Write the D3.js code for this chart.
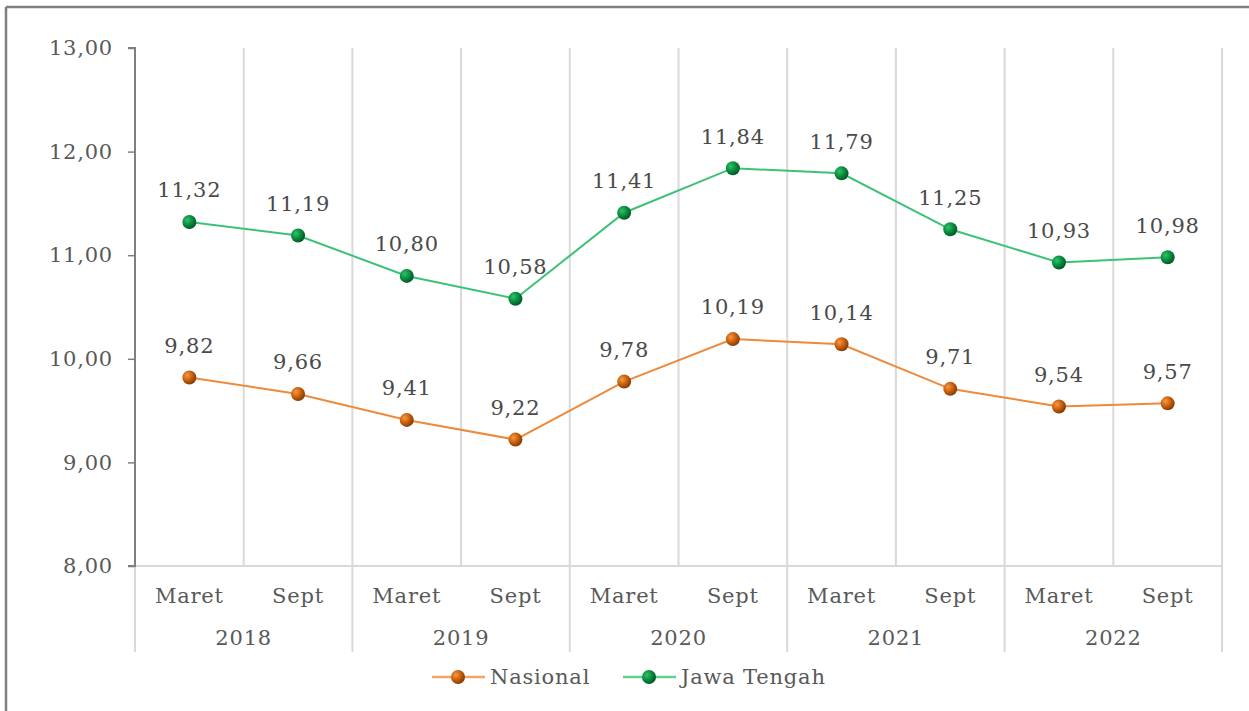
<!DOCTYPE html>
<html><head><meta charset="utf-8">
<script src="https://cdn.jsdelivr.net/npm/d3@7"></script>
<style>body{margin:0;background:#fff}svg{display:block}text{letter-spacing:0.8px}</style>
</head><body>
<svg id="c" width="1249" height="711"></svg>
<script>
const years = ["2018","2019","2020","2021","2022"];
const periods = ["Maret","Sept"];
const nasional = [9.82,9.66,9.41,9.22,9.78,10.19,10.14,9.71,9.54,9.57];
const jateng = [11.32,11.19,10.80,10.58,11.41,11.84,11.79,11.25,10.93,10.98];
const yTicks = [8,9,10,11,12,13];

(function(){
const cats = [];
years.forEach(y=>periods.forEach(p=>cats.push(y+"|"+p)));
const svg = d3.select("#c");
const font = "'DejaVu Serif', serif";
const fs = "21px";
const fmt = v => d3.format(".2f")(v).replace(".", ",");

const defs = svg.append("defs");
function grad(id, light, mid, dark){
  const g = defs.append("radialGradient").attr("id",id).attr("cx","35%").attr("cy","35%").attr("r","65%");
  g.append("stop").attr("offset","0%").attr("stop-color",light);
  g.append("stop").attr("offset","50%").attr("stop-color",mid);
  g.append("stop").attr("offset","100%").attr("stop-color",dark);
}
grad("gO","#f39a4a","#d0650f","#8a3c05");
grad("gG","#35c06a","#0a9443","#045a27");

svg.append("line").attr("x1",6).attr("x2",1249).attr("y1",7).attr("y2",7).attr("stroke","#7f7f7f").attr("stroke-width",2.5);
svg.append("line").attr("x1",6).attr("x2",6).attr("y1",7).attr("y2",711).attr("stroke","#7f7f7f").attr("stroke-width",2.5);

const pL = 135, pR = 1222, pT = 48, pB = 566;
const x = d3.scaleBand().domain(cats).range([pL,pR]);
const y = d3.scaleLinear().domain([8,13]).range([pB,pT]);

const g = svg.append("g");
cats.forEach((c,i)=>{
  const xb = x(c) + x.bandwidth();
  const isYear = (i % 2 === 1);
  g.append("line").attr("x1",xb).attr("x2",xb).attr("y1",pT).attr("y2", isYear ? 652 : pB)
    .attr("stroke","#d9d9d9").attr("stroke-width",2);
});
g.append("line").attr("x1",pL).attr("x2",pL).attr("y1",pB).attr("y2",652).attr("stroke","#d9d9d9").attr("stroke-width",2);
g.append("line").attr("x1",pL).attr("x2",pR).attr("y1",pB).attr("y2",pB).attr("stroke","#d9d9d9").attr("stroke-width",2);

const yAxis = d3.axisLeft(y).tickValues(yTicks).tickFormat(fmt).tickSize(7).tickPadding(15);
const ya = svg.append("g").attr("transform",`translate(${pL},0)`).call(yAxis);
ya.select(".domain").attr("stroke","#7f7f7f").attr("stroke-width",2).attr("d",`M-7,${pT}H0V${pB}H-7`);
ya.selectAll(".tick line").attr("stroke","#7f7f7f").attr("stroke-width",1.5);
ya.selectAll(".tick text").attr("fill","#595959").style("font-family",font).style("font-size",fs);

cats.forEach(c=>{
  const p = c.split("|")[1];
  svg.append("text").attr("x", x(c)+x.bandwidth()/2).attr("y",596).attr("dy","0.35em")
    .attr("text-anchor","middle").attr("fill","#595959").style("font-family",font).style("font-size",fs).text(p);
});
years.forEach(yr=>{
  const x0 = x(yr+"|Maret"), x1 = x(yr+"|Sept")+x.bandwidth();
  svg.append("text").attr("x",(x0+x1)/2).attr("y",638).attr("dy","0.35em")
    .attr("text-anchor","middle").attr("fill","#595959").style("font-family",font).style("font-size",fs).text(yr);
});

const cx = c => x(c)+x.bandwidth()/2;
function series(vals, lineColor, gid){
  const line = d3.line().x((d,i)=>cx(cats[i])).y(d=>y(d));
  svg.append("path").datum(vals).attr("d",line).attr("fill","none").attr("stroke",lineColor).attr("stroke-width",2);
  svg.append("g").selectAll("circle").data(vals).join("circle")
    .attr("cx",(d,i)=>cx(cats[i])).attr("cy",d=>y(d)).attr("r",7).attr("fill",`url(#${gid})`);
  svg.append("g").selectAll("text").data(vals).join("text")
    .attr("x",(d,i)=>cx(cats[i])).attr("y",d=>y(d)-32).attr("dy","0.35em")
    .attr("text-anchor","middle").attr("fill","#4a4a4a").style("font-family",font).style("font-size",fs).text(fmt);
}
series(nasional,"#ed8a3c","gO");
series(jateng,"#3cc277","gG");

const legend = [{name:"Nasional",line:"#f0a469",gid:"gO",x:432},{name:"Jawa Tengah",line:"#5fd08f",gid:"gG",x:623}];
legend.forEach(l=>{
  svg.append("line").attr("x1",l.x).attr("x2",l.x+53).attr("y1",677).attr("y2",677).attr("stroke",l.line).attr("stroke-width",2.5);
  svg.append("circle").attr("cx",l.x+26).attr("cy",677).attr("r",7).attr("fill",`url(#${l.gid})`);
  svg.append("text").attr("x",l.x+58).attr("y",677).attr("dy","0.35em").attr("fill","#595959")
    .style("font-family",font).style("font-size",fs).text(l.name);
});
})();
</script>
</body></html>
